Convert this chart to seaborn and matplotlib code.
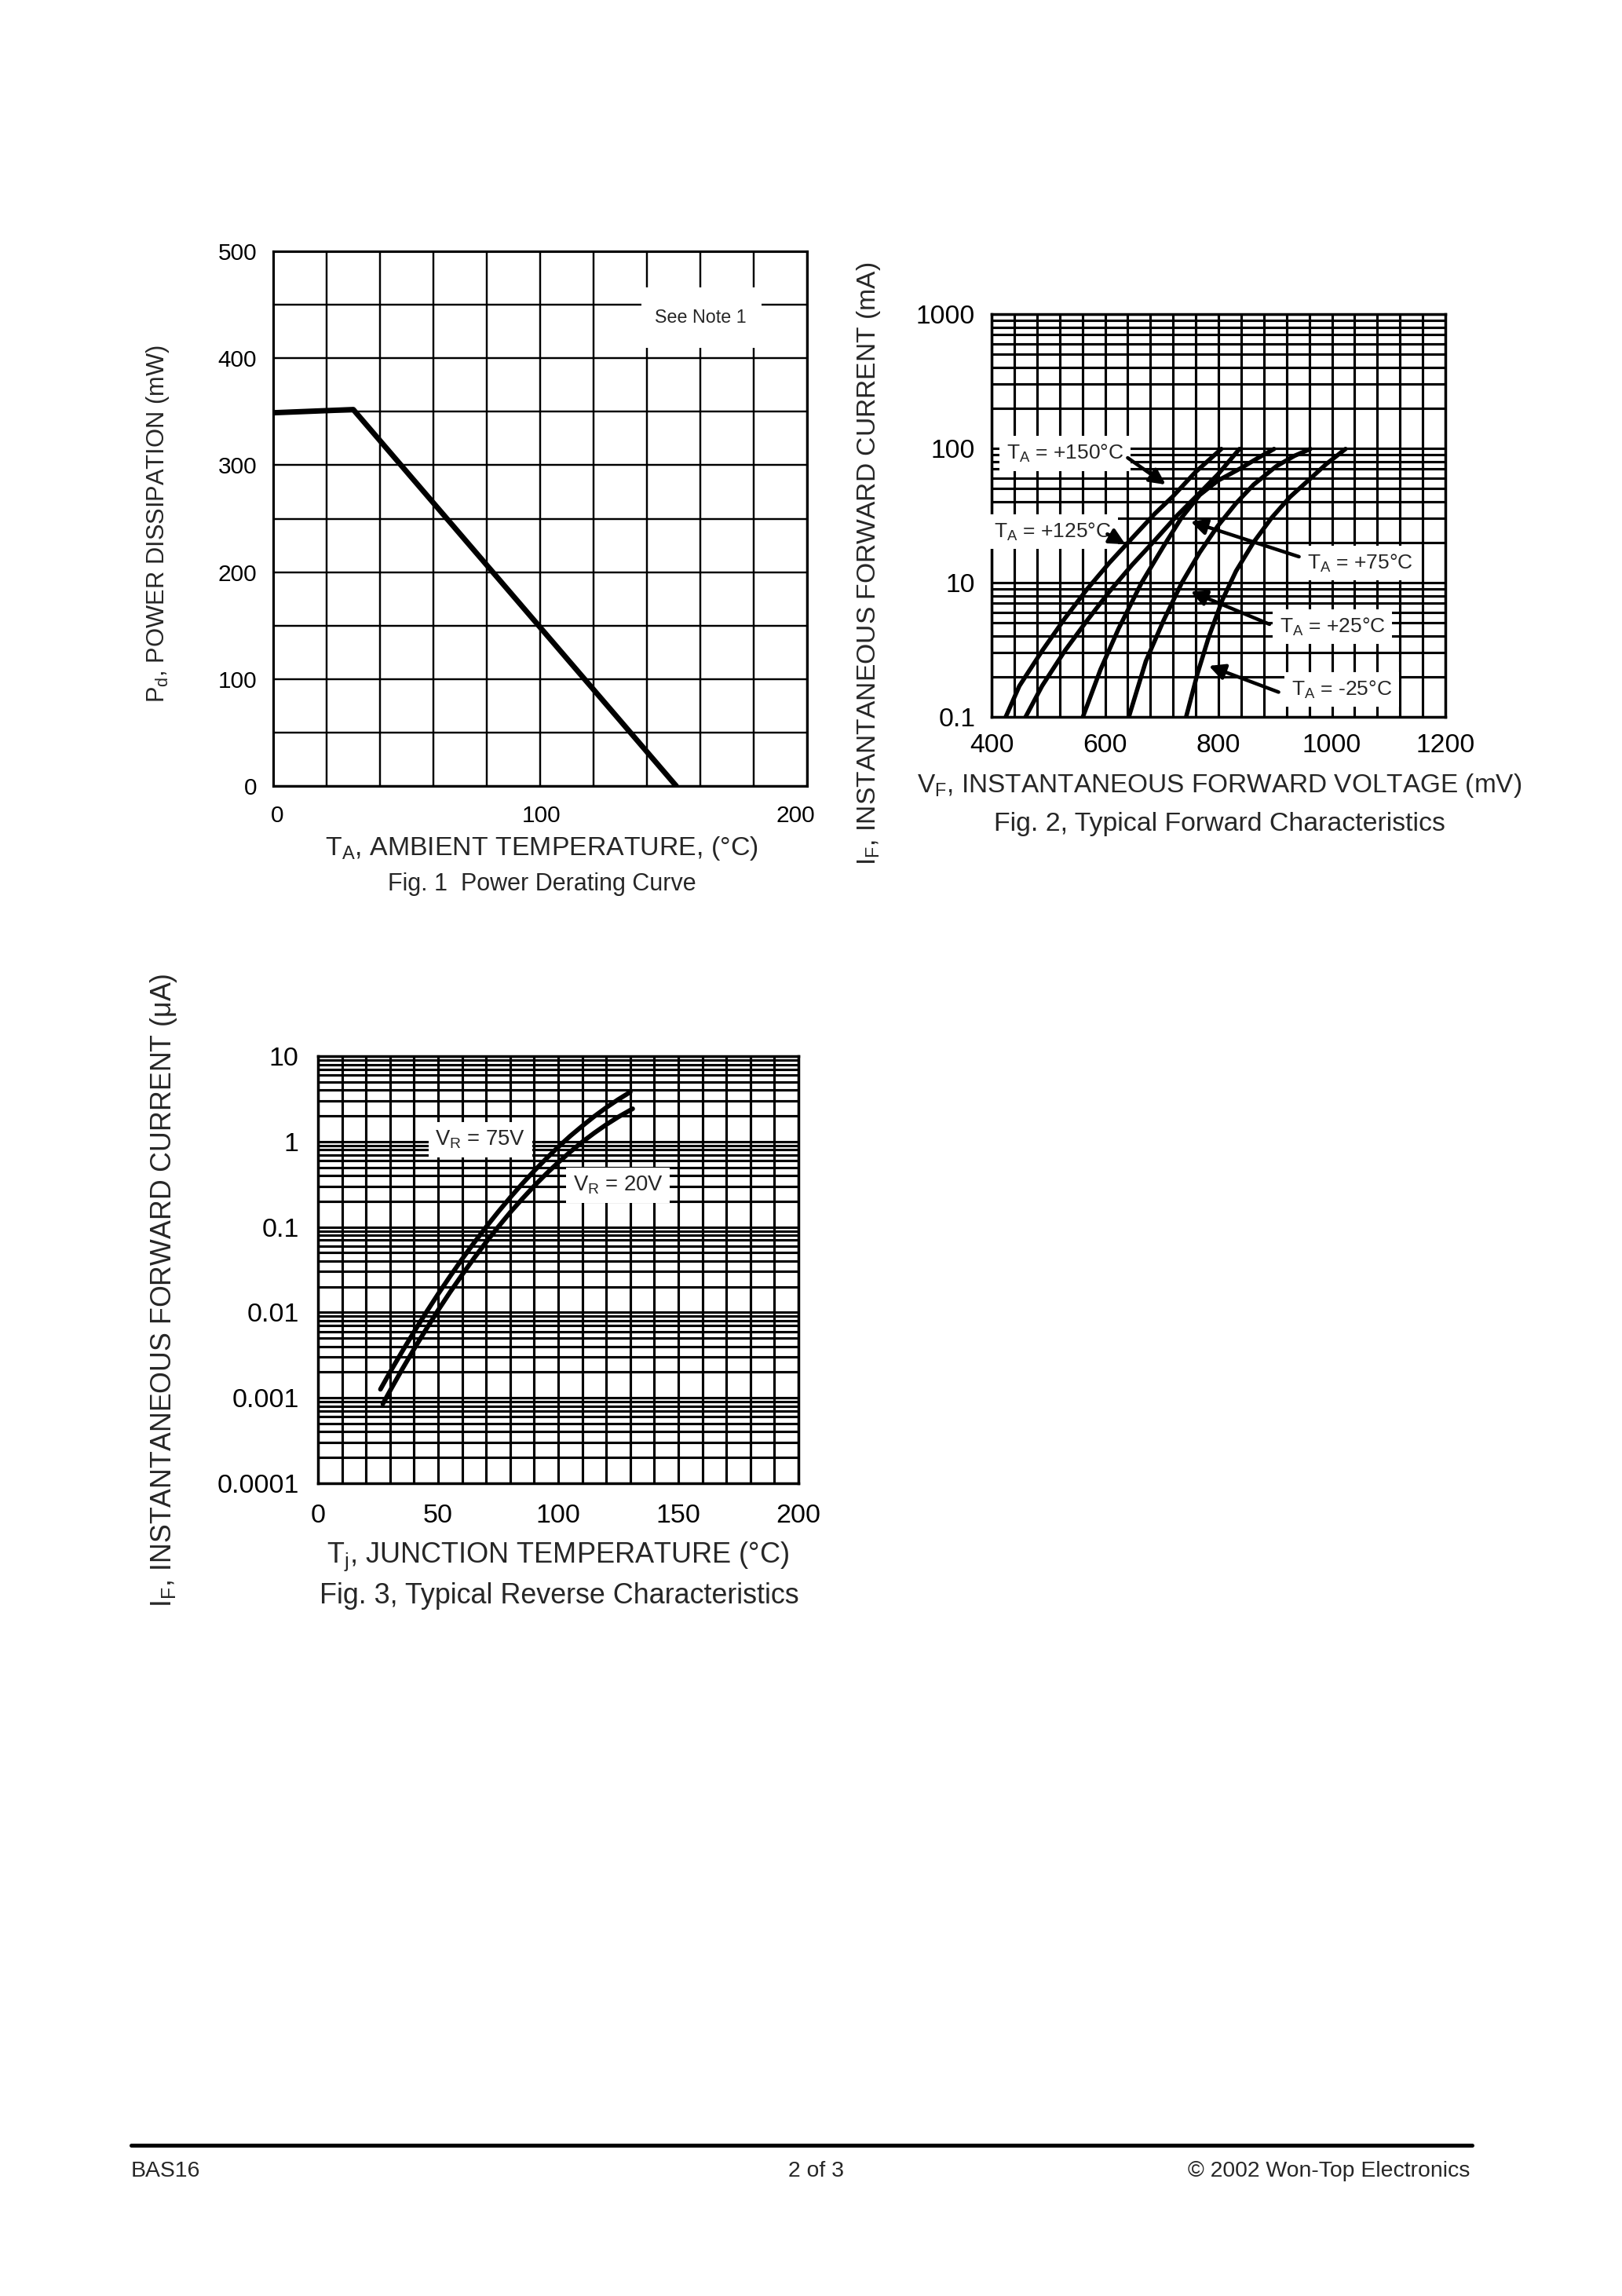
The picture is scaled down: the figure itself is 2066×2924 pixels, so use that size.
import numpy as np
import pandas as pd
import matplotlib
matplotlib.use("Agg")
import matplotlib.pyplot as plt
import seaborn as sns
from matplotlib.lines import Line2D
from matplotlib.patches import Rectangle
from matplotlib.transforms import ScaledTranslation
from matplotlib.ticker import MultipleLocator, LogLocator, FixedLocator, NullFormatter

# ---- data ----
# Fig. 1 power derating (degC, mW)
derate_temp = [0, 30, 151]
derate_power = [349, 352, 0]

# Fig. 2 forward characteristics (mV, mA)
vf_150 = [425, 449, 489, 529, 568, 608, 648, 688, 719, 759, 805]
if_150 = [1.0, 1.7, 3.1, 5.4, 8.9, 14.1, 21.5, 32.7, 43.6, 66.3, 99]
vf_125 = [460, 489, 529, 568, 608, 648, 688, 727, 767, 799, 837]
if_125 = [1.0, 1.7, 3.1, 5.2, 8.6, 13.6, 20.7, 31.6, 46.6, 64, 99]
vf_75 = [561, 592, 624, 664, 703, 735, 767, 799, 839, 870, 898]
if_75 = [1.0, 2.25, 4.55, 9.9, 18.6, 30.5, 45, 57.5, 71, 85, 99]
vf_25 = [642, 672, 703, 735, 767, 799, 831, 862, 902, 934, 962]
if_25 = [1.0, 2.6, 5.2, 9.9, 16.8, 26.5, 39, 53.7, 73.6, 88, 99]
vf_m25 = [743, 763, 783, 807, 831, 862, 894, 926, 958, 990, 1024]
if_m25 = [1.0, 2.1, 3.95, 7.45, 12.2, 20, 30.5, 43.4, 57.5, 76.4, 99]

# Fig. 3 reverse characteristics (degC, uA)
tj_75 = [26, 30, 35, 40, 45, 50, 55, 60, 65, 70, 75, 80, 85, 90, 95, 100,
         105, 110, 115, 120, 125, 130]
ir_75 = [0.00126, 0.0020, 0.00347, 0.00593, 0.00995, 0.0164, 0.0265, 0.0421,
         0.0655, 0.100, 0.150, 0.221, 0.320, 0.454, 0.631, 0.863,
         1.16, 1.52, 1.97, 2.50, 3.11, 3.80]
tj_20 = [27, 30, 35, 40, 45, 50, 55, 60, 65, 70, 75, 80, 85, 90, 95, 100,
         105, 110, 115, 120, 125, 131]
ir_20 = [0.00085, 0.00121, 0.00215, 0.00373, 0.00634, 0.0106, 0.0173, 0.0276,
         0.0433, 0.0665, 0.100, 0.148, 0.213, 0.302, 0.419, 0.569,
         0.757, 0.989, 1.26, 1.58, 1.94, 2.42]

fig2_ticks = [1, 10, 100, 1000]
fig2_ticklabels = ["0.1", "10", "100", "1000"]
fig3_ticks = [1e-4, 1e-3, 1e-2, 1e-1, 1, 10]
fig3_ticklabels = ["0.0001", "0.001", "0.01", "0.1", "1", "10"]

# ---- style ----
sns.set_theme(style="white")
plt.rcParams["font.family"] = ["Liberation Sans", "DejaVu Sans"]
plt.rcParams["mathtext.fontset"] = "custom"
plt.rcParams["mathtext.rm"] = "Liberation Sans"
plt.rcParams["mathtext.it"] = "Liberation Sans"
plt.rcParams["mathtext.default"] = "regular"

W, H, DPI = 2066, 2924, 250
fig = plt.figure(figsize=(W / DPI, H / DPI), dpi=DPI, facecolor="white")

def fx(x):
    return x / W

def fy(y):
    return 1 - y / H

def box(x0, y0, x1, y1):
    return [fx(x0), fy(y1), (x1 - x0) / W, (y1 - y0) / H]

def style_axes(ax, grid_lw, frame_lw):
    ax.set_axisbelow(True)
    ax.grid(which="both", color="black", lw=grid_lw)
    for s in ax.spines.values():
        s.set_color("black")
        s.set_linewidth(frame_lw)
    ax.tick_params(which="both", length=0, colors="black")
    ax.set_xlabel("")
    ax.set_ylabel("")

# ---------------- Fig. 1 ----------------
ax1 = fig.add_axes(box(348, 320, 1028, 1001))
df1 = pd.DataFrame({"temp": derate_temp, "power": derate_power})
sns.lineplot(data=df1, x="temp", y="power", ax=ax1, color="black", lw=2.0,
             sort=False, estimator=None)
ax1.set_xlim(0, 200)
ax1.set_ylim(0, 500)
ax1.xaxis.set_major_locator(FixedLocator([0, 100, 200]))
ax1.xaxis.set_minor_locator(MultipleLocator(20))
ax1.yaxis.set_major_locator(MultipleLocator(100))
ax1.yaxis.set_minor_locator(MultipleLocator(50))
style_axes(ax1, 0.7, 0.9)
ax1.tick_params(axis="x", labelsize=8.6, pad=7)
ax1.tick_params(axis="y", labelsize=8.6, pad=6)
# the printed x labels sit a little off their gridlines
for lbl, shift in zip(ax1.get_xticklabels(), [5, 2, -15]):
    lbl.set_transform(lbl.get_transform() + ScaledTranslation(shift / DPI, 0, fig.dpi_scale_trans))
ax1.add_patch(Rectangle((138, 410), 45, 56, fc="white", ec="none", zorder=1))
ax1.text(160, 438, "See Note 1", fontsize=6.7, ha="center", va="center", zorder=3)

fig.text(fx(201), fy(667), "P$_d$, POWER DISSIPATION (mW)", rotation=90,
         ha="center", va="center", fontsize=8.9)
fig.text(fx(690), fy(1081), "T$_A$, AMBIENT TEMPERATURE, (°C)",
         ha="center", va="center", fontsize=9.75)
fig.text(fx(690), fy(1126), "Fig. 1  Power Derating Curve",
         ha="center", va="center", fontsize=8.8)

# ---------------- Fig. 2 ----------------
ax2 = fig.add_axes(box(1263, 400, 1841, 913))
ax2.set_yscale("log")
curves2 = [(vf_150, if_150), (vf_125, if_125), (vf_75, if_75),
           (vf_25, if_25), (vf_m25, if_m25)]
for vf, cur in curves2:
    sns.lineplot(x=vf, y=cur, ax=ax2, color="black", lw=1.6,
                 sort=False, estimator=None)
ax2.set_xlim(400, 1200)
ax2.set_ylim(1, 1000)
ax2.xaxis.set_major_locator(FixedLocator([400, 600, 800, 1000, 1200]))
ax2.xaxis.set_minor_locator(MultipleLocator(40))
ax2.yaxis.set_major_locator(FixedLocator(fig2_ticks))
ax2.set_yticklabels(fig2_ticklabels)
ax2.yaxis.set_minor_locator(LogLocator(base=10, subs=np.arange(2, 10)))
ax2.yaxis.set_minor_formatter(NullFormatter())
style_axes(ax2, 0.9, 1.0)
ax2.tick_params(axis="x", labelsize=9.7, pad=6)
ax2.tick_params(axis="y", labelsize=9.7, pad=6)

bb = dict(facecolor="white", edgecolor="none", pad=2.5)
labels2 = [
    ("T$_A$ = +150°C", 529, 92, (640, 85), (707, 53.7)),
    ("T$_A$ = +125°C", 508, 24, (604, 23), (636, 19.3)),
    ("T$_A$ = +75°C", 1049, 14, (942, 15.6), (751, 28.5)),
    ("T$_A$ = +25°C", 1001, 4.7, (890, 4.9), (751, 8.6)),
    ("T$_A$ = -25°C", 1017, 1.6, (906, 1.53), (783, 2.4)),
]
for txt, x, y, tail, head in labels2:
    ax2.text(x, y, txt, fontsize=7.6, ha="center", va="center", bbox=bb, zorder=4)
    ax2.annotate("", xy=head, xytext=tail, zorder=5,
                 arrowprops=dict(arrowstyle="-|>", color="black", lw=1.3,
                                 mutation_scale=12, shrinkA=0, shrinkB=0))

fig.text(fx(1106), fy(718), "I$_F$, INSTANTANEOUS FORWARD CURRENT (mA)", rotation=90,
         ha="center", va="center", fontsize=9.7)
fig.text(fx(1553), fy(1001), "V$_F$, INSTANTANEOUS FORWARD VOLTAGE (mV)",
         ha="center", va="center", fontsize=9.6)
fig.text(fx(1553), fy(1050), "Fig. 2, Typical Forward Characteristics",
         ha="center", va="center", fontsize=9.75)

# ---------------- Fig. 3 ----------------
ax3 = fig.add_axes(box(405, 1345, 1017, 1889))
ax3.set_yscale("log")
for tj, ir in [(tj_75, ir_75), (tj_20, ir_20)]:
    sns.lineplot(x=tj, y=ir, ax=ax3, color="black", lw=1.7,
                 sort=False, estimator=None)
ax3.set_xlim(0, 200)
ax3.set_ylim(1e-4, 10)
ax3.xaxis.set_major_locator(FixedLocator([0, 50, 100, 150, 200]))
ax3.xaxis.set_minor_locator(MultipleLocator(10))
ax3.yaxis.set_major_locator(FixedLocator(fig3_ticks))
ax3.set_yticklabels(fig3_ticklabels)
ax3.yaxis.set_minor_locator(LogLocator(base=10, subs=np.arange(2, 10)))
ax3.yaxis.set_minor_formatter(NullFormatter())
style_axes(ax3, 0.9, 1.0)
ax3.tick_params(axis="x", labelsize=9.8, pad=7.5)
ax3.tick_params(axis="y", labelsize=9.8, pad=7)

ax3.text(67.6, 1.05, "V$_R$ = 75V", fontsize=7.9, ha="center", va="center", bbox=bb, zorder=4)
ax3.text(124.9, 0.31, "V$_R$ = 20V", fontsize=7.9, ha="center", va="center", bbox=bb, zorder=4)

fig.text(fx(209), fy(1643), "I$_F$, INSTANTANEOUS FORWARD CURRENT (μA)", rotation=90,
         ha="center", va="center", fontsize=10.3)
fig.text(fx(711), fy(1982), "T$_j$, JUNCTION TEMPERATURE (°C)",
         ha="center", va="center", fontsize=10.4)
fig.text(fx(712), fy(2032), "Fig. 3, Typical Reverse Characteristics",
         ha="center", va="center", fontsize=10.35)

# ---------------- footer ----------------
fig.add_artist(Line2D([fx(167), fx(1875)], [fy(2732), fy(2732)], lw=1.45, color="black"))
fig.text(fx(167), fy(2765), "BAS16", ha="left", va="center", fontsize=8.2)
fig.text(fx(1039), fy(2765), "2 of 3", ha="center", va="center", fontsize=8.2)
fig.text(fx(1872), fy(2765), "© 2002 Won-Top Electronics", ha="right", va="center", fontsize=8.2)

fig.savefig("out.png", dpi=DPI, facecolor="white")
